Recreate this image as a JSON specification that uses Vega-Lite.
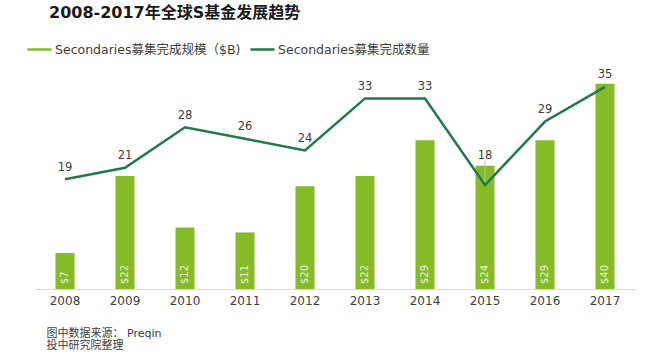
{
  "$schema": "https://vega.github.io/schema/vega-lite/v6.json",
  "width": 600,
  "height": 231,
  "autosize": {"type": "none"},
  "padding": {"left": 35, "top": 58, "right": 31, "bottom": 67},
  "background": "white",
  "config": {"view": {"stroke": null}, "font": "DejaVu Sans, Noto Sans CJK SC"},
  "title": {
    "text": "2008-2017年全球S基金发展趋势",
    "anchor": "start",
    "frame": "group",
    "fontSize": 16,
    "fontWeight": "bold",
    "color": "#1A1A1A",
    "font": "DejaVu Sans, Noto Sans CJK SC",
    "dx": 14,
    "offset": 15
  },
  "data": {
    "values": [
      {"year": "2008", "amount": 7, "count": 19},
      {"year": "2009", "amount": 22, "count": 21},
      {"year": "2010", "amount": 12, "count": 28},
      {"year": "2011", "amount": 11, "count": 26},
      {"year": "2012", "amount": 20, "count": 24},
      {"year": "2013", "amount": 22, "count": 33},
      {"year": "2014", "amount": 29, "count": 33},
      {"year": "2015", "amount": 24, "count": 18},
      {"year": "2016", "amount": 29, "count": 29},
      {"year": "2017", "amount": 40, "count": 35}
    ]
  },
  "encoding": {
    "x": {
      "field": "year",
      "type": "ordinal",
      "scale": {"paddingInner": 0, "paddingOuter": 0},
      "axis": {
        "title": ["图中数据来源： Preqin", "投中研究院整理"],
        "titleX": 11,
        "titleY": 38,
        "titleAlign": "left",
        "titleAnchor": "start",
        "titleBaseline": "top",
        "titleFontSize": 11,
        "titleFontWeight": "normal",
        "titleColor": "#404040",
        "titleLineHeight": 12,
        "labelAngle": 0,
        "labelFontSize": 12,
        "labelColor": "#404040",
        "labelPadding": 6,
        "ticks": false,
        "domainColor": "#D9D9D9",
        "domainWidth": 1,
        "grid": false
      }
    }
  },
  "layer": [
    {
      "encoding": {
        "y": {"field": "amount", "type": "quantitative", "scale": {"domain": [0, 45], "nice": false}, "axis": null}
      },
      "layer": [
        {
          "mark": {"type": "bar", "size": 19},
          "encoding": {
            "color": {
              "datum": "Secondaries募集完成规模（$B)",
              "type": "nominal",
              "scale": {
                "domain": ["Secondaries募集完成规模（$B)", "Secondaries募集完成数量"],
                "range": ["#85BB27", "#217B46"]
              },
              "legend": {
                "title": null,
                "orient": "none",
                "legendX": -9,
                "legendY": -22,
                "direction": "horizontal",
                "symbolType": "stroke",
                "symbolSize": 576,
                "symbolStrokeWidth": 2.5,
                "labelFontSize": 12.5,
                "labelColor": "#404040",
                "labelOffset": 2,
                "columnPadding": 4,
                "padding": 0,
                "labelFont": "DejaVu Sans, Noto Sans CJK SC",
                "labelLimit": 400,
                "encode": {
                  "symbols": {
                    "update": {
                      "stroke": {"condition": {"test": "datum.value === 'Secondaries募集完成规模（$B)'", "value": "#85BB27"}, "value": "#217B46"},
                      "strokeWidth": {"condition": {"test": "datum.value === 'Secondaries募集完成规模（$B)'", "value": 4.5}, "value": 2.5},
                      "strokeCap": {"value": "butt"}
                    }
                  }
                }
              }
            }
          }
        },
        {
          "mark": {"type": "text", "angle": 270, "align": "left", "baseline": "middle", "dx": 5, "fontSize": 10, "color": "#EAF2DC"},
          "encoding": {
            "y": {"datum": 0, "type": "quantitative"},
            "text": {"field": "amount", "type": "quantitative", "format": "$.0f"}
          }
        }
      ]
    },
    {
      "encoding": {
        "y": {"field": "count", "type": "quantitative", "scale": {"domain": [0, 40], "nice": false}, "axis": null}
      },
      "layer": [
        {
          "transform": [{"filter": "datum.year === '2015'"}],
          "mark": {"type": "rule", "color": "#BFBFBF", "strokeWidth": 1},
          "encoding": {"y2": {"datum": 22.3}}
        },
        {
          "mark": {"type": "line", "strokeWidth": 2.5},
          "encoding": {
            "color": {"datum": "Secondaries募集完成数量", "type": "nominal"}
          }
        },
        {
          "transform": [{"filter": "datum.year !== '2015'"}],
          "mark": {"type": "text", "dy": -11.5, "fontSize": 11.5, "color": "#404040", "baseline": "middle"},
          "encoding": {"text": {"field": "count", "type": "quantitative"}}
        },
        {
          "transform": [{"filter": "datum.year === '2015'"}],
          "mark": {"type": "text", "dy": -29, "fontSize": 11.5, "color": "#404040", "baseline": "middle"},
          "encoding": {"text": {"field": "count", "type": "quantitative"}}
        }
      ]
    }
  ],
  "resolve": {"scale": {"y": "independent"}}
}
